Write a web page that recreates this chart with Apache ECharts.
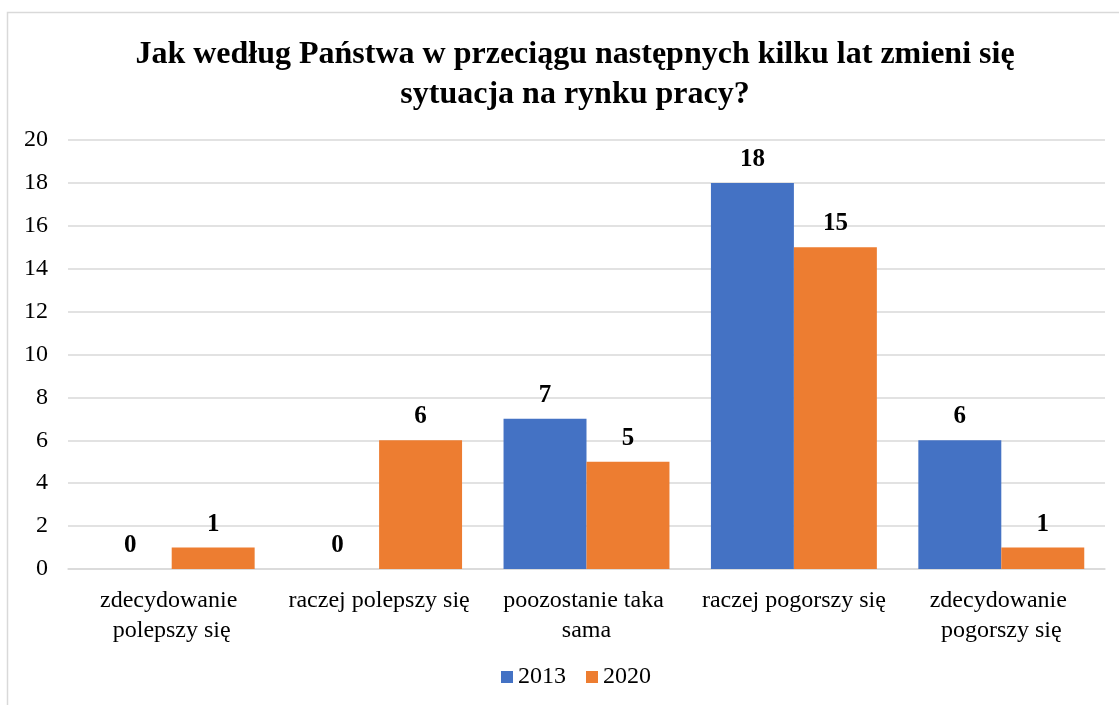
<!DOCTYPE html>
<html>
<head>
<meta charset="utf-8">
<script src="https://cdn.jsdelivr.net/npm/echarts@6/dist/echarts.min.js"></script>
<style>
html,body{margin:0;padding:0;background:#fff;}
#chart{width:1119px;height:705px;}
</style>
</head>
<body>
<div id="chart"></div>
<script>
/*dane wykresu*/
var categories = ["zdecydowanie polepszy się", "raczej polepszy się", "poozostanie taka sama", "raczej pogorszy się", "zdecydowanie pogorszy się"];
var years = ["2013", "2020"];
var values2013 = [0, 0, 7, 18, 6];
var values2020 = [1, 6, 5, 15, 1];
var yTicks = {min: 0, max: 20, interval: 2};

var serif = '"Liberation Serif","Times New Roman",serif';
var myChart = echarts.init(document.getElementById('chart'));

function barSeries(name, data, color){
    return {
        name: name,
        type: 'bar',
        data: data,
        barGap: '0%',
        barCategoryGap: '20%',
        itemStyle: {color: color},
        label: {
            show: true,
            position: 'top',
            distance: 11,
            fontFamily: serif,
            fontWeight: 'bold',
            fontSize: 25,
            color: '#000'
        }
    };
}

myChart.setOption({
    animation: false,
    graphic: [{
        type: 'rect',
        shape: {x: 7.5, y: 12.5, width: 1130, height: 720},
        style: {fill: 'none', stroke: '#d9d9d9', lineWidth: 1.5}
    }],
    title: {
        text: 'Jak według Państwa w przeciągu następnych kilku lat zmieni się\nsytuacja na rynku pracy?',
        left: 570,
        textAlign: 'center',
        top: 30,
        textStyle: {
            fontFamily: serif,
            fontWeight: 'bold',
            fontSize: 32,
            lineHeight: 40,
            color: '#000'
        }
    },
    legend: {
        data: years,
        bottom: 11,
        left: 496,
        itemWidth: 12,
        itemHeight: 12,
        itemGap: 20,
        icon: 'rect',
        textStyle: {fontFamily: serif, fontSize: 24, color: '#000'}
    },
    grid: {left: 68, right: 14, top: 140, bottom: 136, containLabel: false},
    xAxis: {
        type: 'category',
        data: categories,
        axisLine: {lineStyle: {color: '#d9d9d9', width: 1.5}},
        axisTick: {show: false},
        axisLabel: {
            interval: 0,
            margin: 17,
            width: 205,
            overflow: 'break',
            lineHeight: 30,
            fontFamily: serif,
            fontSize: 24,
            color: '#000'
        }
    },
    yAxis: {
        type: 'value',
        min: yTicks.min,
        max: yTicks.max,
        interval: yTicks.interval,
        axisLine: {show: false},
        axisTick: {show: false},
        splitLine: {lineStyle: {color: '#d9d9d9', width: 1.5}},
        axisLabel: {margin: 20, fontFamily: serif, fontSize: 24, color: '#000'}
    },
    series: [
        barSeries(years[0], values2013, '#4472C4'),
        barSeries(years[1], values2020, '#ED7D31')
    ]
});
</script>
</body>
</html>
